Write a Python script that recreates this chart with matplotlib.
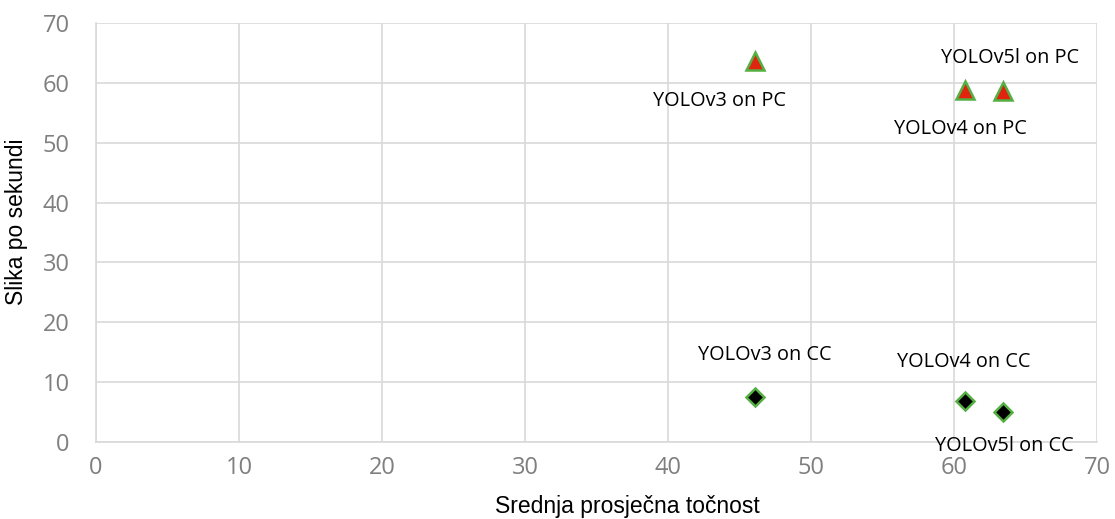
import matplotlib
matplotlib.use('Agg')
import matplotlib.pyplot as plt

# data
models = ['YOLOv3', 'YOLOv4', 'YOLOv5l']
map_acc = [46.1, 60.8, 63.4]
fps_pc = [63.6, 58.8, 58.6]
fps_cc = [7.5, 6.8, 5.0]

pc_labels = [f'{m} on PC' for m in models]
cc_labels = [f'{m} on CC' for m in models]

# label offsets in pixels (dx, dy)
pc_offsets = [(-36, -40), (-5, -39), (7, 33)]
cc_offsets = [(10, 42), (-2, 39), (2, -34)]

plt.rcParams['font.family'] = ['Open Sans', 'DejaVu Sans']

fig = plt.figure(figsize=(11.15, 5.19), dpi=100)
ax = fig.add_axes([0.0861, 0.1484, 0.8978, 0.8073])

green = '#55B043'
ax.plot(map_acc, fps_pc, linestyle='none', marker='^', markersize=13,
        markerfacecolor='#E0240E', markeredgecolor=green, markeredgewidth=1.8,
        zorder=3)
ax.plot(map_acc, fps_cc, linestyle='none', marker='D', markersize=9,
        markerfacecolor='black', markeredgecolor=green, markeredgewidth=1.8,
        zorder=3)

for x, y, lab, off in zip(map_acc, fps_pc, pc_labels, pc_offsets):
    ax.annotate(lab, (x, y), xytext=off, textcoords='offset pixels',
                ha='center', va='center', fontsize=14.3, color='black')
for x, y, lab, off in zip(map_acc, fps_cc, cc_labels, cc_offsets):
    ax.annotate(lab, (x, y), xytext=off, textcoords='offset pixels',
                ha='center', va='center', fontsize=14.3, color='black')

ax.set_xlim(0, 70)
ax.set_ylim(0, 70)
ax.set_xticks(range(0, 71, 10))
ax.set_yticks(range(0, 71, 10))
ax.grid(True, color='#D9D9D9', linewidth=1.2)
ax.set_axisbelow(True)
for s in ['top', 'right']:
    ax.spines[s].set_visible(False)
for s in ['left', 'bottom']:
    ax.spines[s].set_color('#D9D9D9')
    ax.spines[s].set_linewidth(1.2)
ax.tick_params(length=0, labelsize=17, labelcolor='#7F7F7F')
ax.tick_params(axis='x', pad=10)
ax.tick_params(axis='y', pad=19)

ax.set_xlabel('Srednja prosječna točnost', fontsize=16.5, va='center',
              family=['Liberation Sans', 'DejaVu Sans'])
ax.set_ylabel('Slika po sekundi', fontsize=16.5, va='center',
              family=['Liberation Sans', 'DejaVu Sans'])
ax.xaxis.set_label_coords(0.531, -0.155)
ax.yaxis.set_label_coords(-0.079, 0.525)

fig.savefig('out.png', dpi=100)
